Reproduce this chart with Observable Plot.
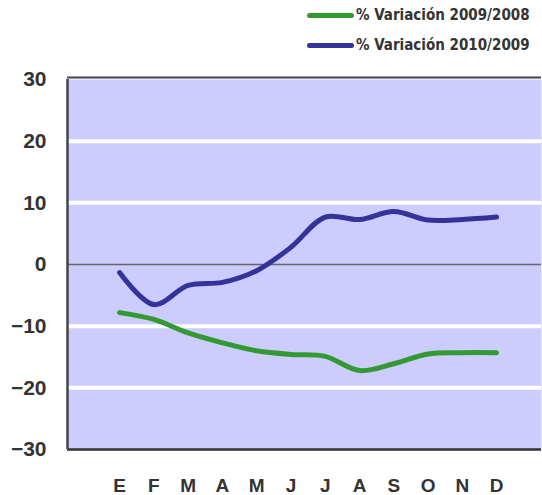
<!DOCTYPE html>
<html>
<head>
<meta charset="utf-8">
<script src="https://cdn.jsdelivr.net/npm/d3@7"></script>
<script src="https://cdn.jsdelivr.net/npm/@observablehq/plot@0.6"></script>
<style>
  html, body { margin: 0; padding: 0; background: #fff; }
  #wrap { width: 542px; position: relative; }
  #legend { position: relative; height: 62px; font-family: "DejaVu Sans Condensed", "DejaVu Sans", sans-serif; font-weight: bold; font-size: 15px; color: #333; }
  .item { position: absolute; left: 307px; display: flex; align-items: center; white-space: nowrap; }
  .sw { display: inline-block; width: 47px; height: 5px; border-radius: 2.5px; margin-right: 2px; }
  svg { display: block; }
</style>
</head>
<body>
<div id="wrap">
  <div id="legend"></div>
  <div id="chart"></div>
</div>
<script>
const months = ["E","F","M","A","M","J","J","A","S","O","N","D"];
const series = ["% Variación 2009/2008", "% Variación 2010/2009"];
const colors = ["#339933", "#333399"];
const var2009 = [-7.8, -8.9, -11.1, -12.7, -14.0, -14.6, -14.9, -17.2, -16.1, -14.5, -14.3, -14.3];
const var2010 = [-1.3, -6.5, -3.4, -2.9, -1.0, 2.8, 7.7, 7.3, 8.6, 7.2, 7.3, 7.7];
const yTicks = [-30, -20, -10, 0, 10, 20, 30];
const gridValues = [-20, -10, 10, 20];

const rows = [];
months.forEach((m, i) => {
  rows.push({i, month: m, value: var2009[i], series: series[0]});
  rows.push({i, month: m, value: var2010[i], series: series[1]});
});

// legend
const legend = document.getElementById("legend");
series.forEach((s, k) => {
  const d = document.createElement("div");
  d.className = "item";
  d.style.top = (k === 0 ? 6 : 36) + "px";
  d.innerHTML = `<span class="sw" style="background:${colors[k]}"></span><span>${s}</span>`;
  legend.appendChild(d);
});

const xDomain = [-1.52, 12.31];

const chart = Plot.plot({
  width: 542,
  height: 433,
  marginLeft: 67,
  marginRight: 1,
  marginTop: 17,
  marginBottom: 46,
  style: {background: "transparent", overflow: "visible"},
  x: {type: "linear", domain: xDomain},
  y: {domain: [-30, 30]},
  color: {domain: series, range: colors},
  marks: [
    Plot.frame({fill: "#ccccff", stroke: "none"}),
    Plot.ruleY(gridValues, {stroke: "#ffffff", strokeWidth: 4}),
    Plot.ruleY([0], {stroke: "#666666", strokeWidth: 1.5}),
    Plot.ruleY([30], {stroke: "#444444", strokeWidth: 2, dy: -2}),
    Plot.ruleY([-30], {stroke: "#333333", strokeWidth: 2.5}),
    Plot.ruleX([xDomain[0]], {stroke: "#444444", strokeWidth: 2.5}),
    Plot.line(rows, {x: "i", y: "value", stroke: "series", z: "series", strokeWidth: 5, curve: "catmull-rom", strokeLinecap: "round"}),
    Plot.axisY(yTicks, {tickSize: 0, tickPadding: 21, fontSize: 21, fontWeight: "bold", fontFamily: "Liberation Sans, Arial, sans-serif", fill: "#333", label: null}),
    Plot.axisX(d3.range(months.length), {tickSize: 0, tickPadding: 29, tickFormat: i => months[i], fontSize: 19, fontWeight: "bold", fontFamily: "Liberation Sans, Arial, sans-serif", fill: "#333", stroke: "#333", strokeWidth: 1, label: null})
  ]
});
document.getElementById("chart").appendChild(chart);
</script>
</body>
</html>
